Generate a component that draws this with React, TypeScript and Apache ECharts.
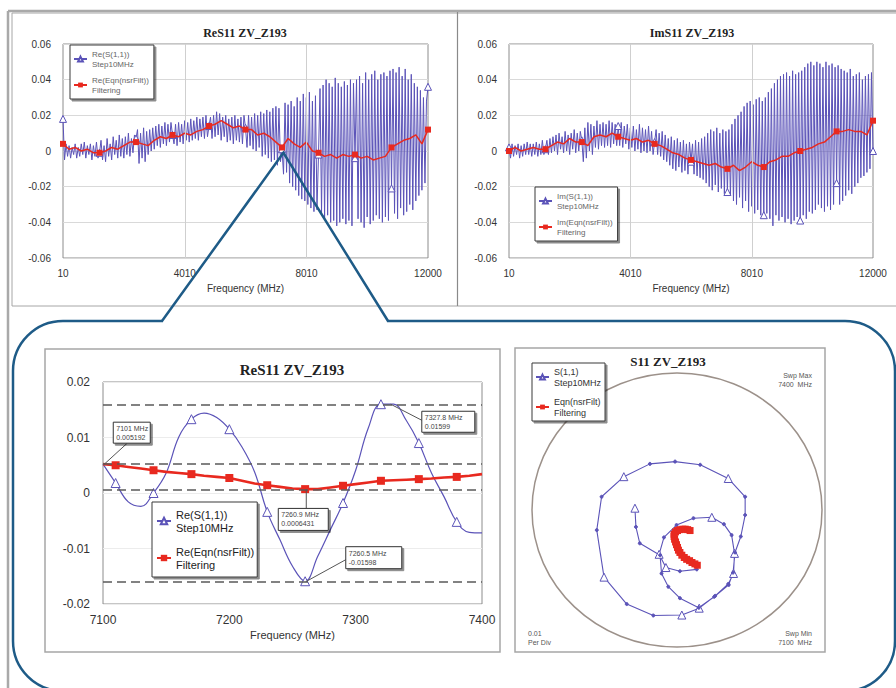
import React, { useEffect, useRef } from "react";
import * as echarts from "echarts";

// ---------- DATA ----------
const topStartMHz = 10;
const topStopMHz = 12000;
const topTicks = [10, 4010, 8010, 12000];
const topMarkerEvery = 24;

// Re(S(1,1)) Step10MHz, wide sweep (read as alternating extremes, one marker value per block)
const reS11Step = [
  0.018,
  -0.005, 0.004, -0.003, 0.003, -0.004, 0.002, -0.002, 0.004, -0.004, 0.002, -0.003, 0.004, -0.002, 0.005, -0.004, 0.003, -0.002, 0.004, -0.005, 0.003, -0.003, 0.005, -0.004,
  -0.001,
  0.006, -0.005, 0.003, -0.006, 0.007, -0.003, 0.004, -0.005, 0.008, -0.002, 0.006, -0.004, 0.009, -0.003, 0.007, -0.004, 0.008, -0.002, 0.01, -0.003, 0.007, -0.001, 0.009,
  0.007,
  0.012, -0.007, 0.01, -0.004, 0.013, -0.006, 0.011, -0.002, 0.012, 0.0, 0.013, 0.001, 0.014, 0.003, 0.015, 0.002, 0.014, 0.004, 0.016, 0.003, 0.015, 0.005, 0.016,
  0.009,
  0.004, 0.015, 0.003, 0.016, 0.005, 0.015, 0.004, 0.017, 0.006, 0.016, 0.005, 0.018, 0.006, 0.017, 0.007, 0.019, 0.006, 0.018, 0.008, 0.019, 0.007, 0.02, 0.008,
  0.014,
  0.019, 0.007, 0.02, 0.008, 0.022, 0.009, 0.021, 0.006, 0.019, 0.008, 0.02, 0.005, 0.018, 0.006, 0.019, 0.004, 0.02, 0.006, 0.018, 0.005, 0.019, 0.004, 0.02,
  0.013,
  0.002, 0.02, 0.003, 0.019, 0.001, 0.021, 0.0, 0.02, 0.002, 0.022, -0.003, 0.021, -0.002, 0.023, -0.004, 0.022, -0.006, 0.024, -0.005, 0.025, -0.008, 0.024, -0.006,
  0.001,
  -0.013, 0.027, -0.012, 0.026, -0.018, 0.028, -0.02, 0.025, -0.022, 0.03, -0.025, 0.028, -0.027, 0.032, -0.028, 0.03, -0.03, 0.033, -0.032, 0.028, -0.034, 0.031, -0.033,
  -0.002,
  0.035, -0.035, 0.037, -0.038, 0.04, -0.036, 0.038, -0.04, 0.036, -0.039, 0.041, -0.042, 0.038, -0.04, 0.036, -0.038, 0.039, -0.041, 0.037, -0.039, 0.04, -0.042, 0.038,
  -0.004,
  0.04, -0.038, 0.042, -0.04, 0.038, -0.043, 0.044, -0.037, 0.04, -0.041, 0.043, -0.039, 0.045, -0.036, 0.04, -0.038, 0.043, -0.04, 0.044, -0.037, 0.042, -0.039, 0.045,
  -0.021,
  0.046, -0.035, 0.044, -0.038, 0.047, -0.032, 0.042, -0.036, 0.046, -0.034, 0.04, -0.03, 0.043, -0.033, 0.038, -0.028, 0.036, -0.025, 0.034, -0.022, 0.03, -0.018, 0.028,
  0.036,
];

// Im(S(1,1)) Step10MHz, wide sweep
const imS11Step = [
  0.002,
  -0.004, 0.004, -0.003, 0.003, -0.002, 0.004, -0.004, 0.003, -0.003, 0.004, -0.002, 0.005, -0.002, 0.004, -0.003, 0.004, -0.002, 0.005, -0.003, 0.004, -0.002, 0.006, -0.002,
  0.001,
  0.006, -0.002, 0.007, -0.001, 0.008, 0.0, 0.009, -0.002, 0.01, 0.001, 0.008, -0.001, 0.011, 0.0, 0.009, -0.002, 0.01, 0.001, 0.012, -0.001, 0.01, 0.0, 0.011,
  0.006,
  -0.006, 0.013, -0.004, 0.016, 0.0, 0.015, -0.002, 0.014, 0.002, 0.017, 0.001, 0.015, 0.003, 0.016, 0.002, 0.015, 0.003, 0.017, 0.002, 0.016, 0.004, 0.015, 0.003,
  0.014,
  0.003, 0.016, 0.002, 0.014, 0.004, 0.015, 0.001, 0.013, 0.002, 0.014, 0.0, 0.012, 0.001, 0.015, -0.001, 0.013, 0.0, 0.012, -0.001, 0.014, 0.0, 0.011, -0.002,
  0.005,
  0.012, -0.002, 0.01, -0.003, 0.011, -0.005, 0.009, -0.006, 0.007, -0.008, 0.008, -0.01, 0.006, -0.011, 0.007, -0.009, 0.005, -0.012, 0.006, -0.011, 0.004, -0.013, 0.005,
  -0.006,
  0.004, -0.013, 0.006, -0.014, 0.005, -0.015, 0.007, -0.016, 0.008, -0.018, 0.01, -0.02, 0.012, -0.022, 0.011, -0.019, 0.013, -0.023, 0.01, -0.021, 0.012, -0.024, 0.011,
  -0.023,
  0.012, -0.025, 0.015, -0.028, 0.018, -0.03, 0.02, -0.026, 0.022, -0.032, 0.025, -0.028, 0.027, -0.034, 0.028, -0.031, 0.026, -0.035, 0.029, -0.033, 0.03, -0.036, 0.028,
  -0.036,
  0.03, -0.035, 0.033, -0.038, 0.035, -0.042, 0.038, -0.036, 0.04, -0.039, 0.042, -0.037, 0.043, -0.04, 0.044, -0.038, 0.042, -0.041, 0.045, -0.039, 0.043, -0.037, 0.044,
  -0.039,
  0.045, -0.036, 0.047, -0.038, 0.049, -0.034, 0.05, -0.035, 0.048, -0.033, 0.05, -0.03, 0.049, -0.032, 0.047, -0.034, 0.05, -0.031, 0.048, -0.033, 0.049, -0.03, 0.047,
  -0.018,
  0.048, -0.03, 0.046, -0.028, 0.045, -0.025, 0.044, -0.022, 0.046, -0.024, 0.042, -0.02, 0.043, -0.018, 0.044, -0.015, 0.04, -0.014, 0.042, -0.012, 0.043, -0.01, 0.044,
  0.0,
];

// Re / Im (Eqn(nsrFilt)) Filtering, wide sweep
const filtMarkerEvery = 6;
const reS11Filt = [
  0.004, 0.001, 0.002, 0.0, 0.001, -0.001, -0.001, 0.0, 0.002, 0.001, 0.003, 0.005, 0.005, 0.004, 0.003, 0.006,
  0.008, 0.007, 0.009, 0.008, 0.01, 0.009, 0.011, 0.012, 0.014, 0.015, 0.017, 0.015, 0.013, 0.014, 0.012, 0.012,
  0.009, 0.01, 0.008, 0.005, 0.002, 0.007, 0.004, 0.002, 0.005, 0.0, -0.001, -0.003, -0.002, -0.004, -0.002,
  -0.003, -0.002, -0.004, -0.003, -0.005, -0.004, -0.003, 0.002, 0.004, 0.006, 0.007, 0.009, 0.004, 0.012,
];
const imS11Filt = [
  0.0, 0.002, 0.0, 0.001, 0.002, 0.001, 0.001, 0.003, 0.005, 0.004, 0.007, 0.005, 0.005, 0.003, 0.008, 0.009,
  0.008, 0.01, 0.008, 0.007, 0.006, 0.007, 0.005, 0.006, 0.004, 0.003, 0.001, -0.001, -0.002, -0.004, -0.005,
  -0.006, -0.007, -0.008, -0.007, -0.009, -0.01, -0.008, -0.011, -0.009, -0.006, -0.008, -0.009, -0.006, -0.005,
  -0.003, -0.003, -0.001, 0.0, 0.001, 0.002, 0.004, 0.005, 0.008, 0.011, 0.011, 0.012, 0.011, 0.011, 0.009, 0.017,
];

// zoomed sweep 7100..7400 MHz, step 10 MHz
const zoomStartMHz = 7100;
const zoomStepMHz = 10;
const zoomReStep = [
  0.0052, 0.0018, -0.0016, -0.0024, 0.0, 0.0036, 0.0101, 0.0133, 0.0144, 0.0136, 0.0115, 0.0083, 0.0038, -0.0034,
  -0.0084, -0.0132, -0.0159, -0.0114, -0.0066, -0.0018, 0.0041, 0.0117, 0.016, 0.016, 0.0131, 0.009, 0.0036,
  -0.0007, -0.0052, -0.0071, -0.0072,
];
const zoomReFilt = [
  0.0052, 0.005, 0.0047, 0.0044, 0.0041, 0.0038, 0.0036, 0.0034, 0.0031, 0.0029, 0.0027, 0.0022, 0.0017, 0.0014,
  0.0011, 0.0008, 0.0007, 0.0007, 0.001, 0.0013, 0.0016, 0.0019, 0.0022, 0.0023, 0.0024, 0.0025, 0.0026, 0.0028,
  0.0029, 0.0031, 0.0034,
];
const zoomLevels = [0.01599, 0.005192, 0.0006431, -0.01598];
const zoomNoteFreq = [7101, 7327.8, 7260.9, 7260.5];
const zoomNoteVal = [0.005192, 0.01599, 0.0006431, -0.01598];
const zoomNoteText = ["7101 MHz\n0.005192", "7327.8 MHz\n0.01599", "7260.9 MHz\n0.0006431", "7260.5 MHz\n-0.01598"];

// polar trace (Re, Im) of S(1,1) and filtered
const polarRe = [
  0.0041, 0.0006, -0.0023, -0.0037, -0.0027, -0.0001, 0.0034, 0.0072, 0.0097, 0.0113, 0.0119, 0.0117, 0.0106,
  0.0079, 0.0046, 0.001, -0.0049, -0.0104, -0.0151, -0.0166, -0.0156, -0.011, -0.0056, -0.0004, 0.0048, 0.0106,
  0.0141, 0.0141, 0.0132, 0.012, 0.0116, 0.0107, 0.0077, 0.0045, 0.0006, -0.0018, -0.0032, -0.0035, -0.0077,
  -0.0085, -0.0087,
];
const polarIm = [
  -0.013, -0.0134, -0.0126, -0.0097, -0.006, -0.0033, -0.0018, -0.0016, -0.0031, -0.0055, -0.0095, -0.0139,
  -0.0162, -0.0188, -0.0215, -0.023, -0.0231, -0.0206, -0.0147, -0.0044, 0.0029, 0.0073, 0.0101, 0.0106, 0.0099,
  0.0069, 0.0029, -0.0011, -0.0058, -0.0093, -0.0137, -0.0164, -0.019, -0.0214, -0.0193, -0.0168, -0.0139,
  -0.0099, -0.0073, -0.0037, 0.0004,
];
const polarMarkerIdx = [2, 3, 7, 10, 11, 14, 15, 18, 21, 25, 40];
const polarFiltRe = [
  0.0042, 0.0037, 0.0031, 0.0026, 0.002, 0.0015, 0.001, 0.0006, 0.0003, 0.0001, -0.0001, -0.0003, -0.0005,
  -0.0006, -0.0006, -0.0003, 0.0001, 0.0006, 0.0012, 0.0017, 0.0022, 0.0027,
];
const polarFiltIm = [
  -0.0121, -0.0118, -0.0115, -0.0111, -0.0108, -0.0104, -0.0099, -0.0093, -0.0088, -0.0082, -0.0076, -0.007,
  -0.0064, -0.0058, -0.0053, -0.0048, -0.0045, -0.0043, -0.0042, -0.0042, -0.0043, -0.0045,
];

// ---------- STYLE ----------
const BLUE = "#5b53b8";
const RED = "#e8291f";
const SANS = '"Liberation Sans", Arial, sans-serif';
const SERIF = '"Liberation Serif", "Times New Roman", serif';

const N_RE_STEP = "Re(S(1,1))\nStep10MHz";
const N_RE_FILT = "Re(Eqn(nsrFilt))\nFiltering";
const N_IM_STEP = "Im(S(1,1))\nStep10MHz";
const N_IM_FILT = "Im(Eqn(nsrFilt))\nFiltering";
const N_P_STEP = "S(1,1)\nStep10MHz";
const N_P_FILT = "Eqn(nsrFilt)\nFiltering";

const sweepX = (n: number, i: number) => topStartMHz + (i * (topStopMHz - topStartMHz)) / (n - 1);
const plain = (v: number) => String(v);

function topBlue(name: string, vals: number[], idx: number) {
  return {
    type: "line", name, xAxisIndex: idx, yAxisIndex: idx, showAllSymbol: true, symbol: "triangle", symbolSize: 7,
    lineStyle: { color: BLUE, width: 1 }, itemStyle: { color: "#fff", borderColor: BLUE, borderWidth: 1 },
    z: 2, silent: true,
    data: vals.map((v, i) =>
      i % topMarkerEvery === 0 ? { value: [sweepX(vals.length, i), v] } : { value: [sweepX(vals.length, i), v], symbol: "none" }
    ),
  };
}
function topRed(name: string, vals: number[], idx: number) {
  return {
    type: "line", name, xAxisIndex: idx, yAxisIndex: idx, showAllSymbol: true, symbol: "rect", symbolSize: 6,
    lineStyle: { color: RED, width: 1.5 }, itemStyle: { color: RED }, z: 3, silent: true,
    data: vals.map((v, i) =>
      i % filtMarkerEvery === 0 ? { value: [sweepX(vals.length, i), v] } : { value: [sweepX(vals.length, i), v], symbol: "none" }
    ),
  };
}
function vGrid(idx: number) {
  return {
    type: "line", xAxisIndex: idx, yAxisIndex: idx, data: [], z: 1, silent: true,
    markLine: {
      silent: true, symbol: ["none", "none"], label: { show: false }, precision: 10,
      lineStyle: { color: "#cfcfcf", type: "solid", width: 1 },
      data: topTicks.slice(1, -1).map((v) => ({ xAxis: v })),
    },
  };
}

function legendBox(left: number, top: number, data: string[], fs: number, lh: number, gap: number, iw: number, ih: number, color: string, pad: number[]) {
  return {
    orient: "vertical", left, top, data, selectedMode: false, itemGap: gap, itemWidth: iw, itemHeight: ih,
    padding: pad, backgroundColor: "#fff", borderColor: "#3a3a3a", borderWidth: 1,
    shadowColor: "rgba(0,0,0,0.45)", shadowBlur: 1, shadowOffsetX: 2, shadowOffsetY: 2,
    textStyle: { fontSize: fs, lineHeight: lh, color, fontFamily: SANS },
  };
}

function buildOption() {
  const zf = zoomReStep.map((_, i) => zoomStartMHz + i * zoomStepMHz);
  const topX = (g: number) => ({
    gridIndex: g, type: "value", min: topStartMHz, max: topStopMHz,
    axisLine: { show: false }, axisTick: { show: false }, splitLine: { show: false },
    axisLabel: { customValues: topTicks, formatter: plain, fontSize: 10, color: "#333", margin: 10, fontFamily: SANS },
    name: "Frequency (MHz)", nameLocation: "middle", nameGap: 25,
    nameTextStyle: { fontSize: 10, color: "#333", fontFamily: SANS },
  });
  const topY = (g: number) => ({
    gridIndex: g, type: "value", min: -0.06, max: 0.06, interval: 0.02,
    axisLine: { show: false }, axisTick: { show: false },
    splitLine: { lineStyle: { color: "#d9d9d9" } },
    axisLabel: { fontSize: 10, color: "#333", margin: 12, fontFamily: SANS },
  });
  return {
    animation: false,
    backgroundColor: "#fff",
    title: [
      { text: "ReS11 ZV_Z193", left: 245, top: 27, textAlign: "center", padding: 0, textStyle: { fontFamily: SERIF, fontWeight: "bold", fontSize: 12, color: "#222" } },
      { text: "ImS11 ZV_Z193", left: 692, top: 27, textAlign: "center", padding: 0, textStyle: { fontFamily: SERIF, fontWeight: "bold", fontSize: 12, color: "#222" } },
      { text: "ReS11 ZV_Z193", left: 292, top: 362, textAlign: "center", padding: 0, textStyle: { fontFamily: SERIF, fontWeight: "bold", fontSize: 15, color: "#222" } },
      { text: "S11 ZV_Z193", left: 668, top: 355, textAlign: "center", padding: 0, textStyle: { fontFamily: SERIF, fontWeight: "bold", fontSize: 13, color: "#222" } },
    ],
    legend: [
      legendBox(70, 45, [N_RE_STEP, N_RE_FILT], 8, 10, 6, 13, 6, "#666", [4, 5, 4, 3]),
      legendBox(535, 187, [N_IM_STEP, N_IM_FILT], 8, 10, 6, 13, 6, "#666", [4, 5, 4, 3]),
      legendBox(152, 502, [N_RE_STEP, N_RE_FILT], 11, 13, 11, 14, 8, "#222", [6, 3, 6, 4]),
      legendBox(532, 363, [N_P_STEP, N_P_FILT], 9, 11, 8, 13, 6, "#333", [3, 4, 3, 3]),
    ],
    grid: [
      { left: 63, top: 44, width: 365, height: 214, show: true, borderColor: "#8c8c8c", borderWidth: 1, backgroundColor: "#fff" },
      { left: 509, top: 44, width: 364, height: 214, show: true, borderColor: "#8c8c8c", borderWidth: 1, backgroundColor: "#fff" },
      { left: 103, top: 382, width: 379, height: 222, show: true, borderColor: "#8c8c8c", borderWidth: 1, backgroundColor: "#fff" },
      { left: 532, top: 373, width: 290, height: 274, show: false },
    ],
    xAxis: [
      topX(0),
      topX(1),
      {
        gridIndex: 2, type: "value", min: 7100, max: 7400, interval: 100,
        axisLine: { show: false }, axisTick: { show: false }, splitLine: { show: false },
        axisLabel: { formatter: plain, fontSize: 12, color: "#333", margin: 10, fontFamily: SANS },
        name: "Frequency (MHz)", nameLocation: "middle", nameGap: 25,
        nameTextStyle: { fontSize: 11, color: "#333", fontFamily: SANS },
      },
      { gridIndex: 3, type: "value", min: -0.03, max: 0.03, show: false },
    ],
    yAxis: [
      topY(0),
      topY(1),
      {
        gridIndex: 2, type: "value", min: -0.02, max: 0.02, interval: 0.01,
        axisLine: { show: false }, axisTick: { show: false },
        splitLine: { lineStyle: { color: "#ececec" } },
        axisLabel: { fontSize: 12, color: "#333", margin: 13, fontFamily: SANS },
      },
      { gridIndex: 3, type: "value", min: -0.03, max: 0.03, show: false },
    ],
    series: [
      vGrid(0),
      vGrid(1),
      topBlue(N_RE_STEP, reS11Step, 0),
      topRed(N_RE_FILT, reS11Filt, 0),
      topBlue(N_IM_STEP, imS11Step, 1),
      topRed(N_IM_FILT, imS11Filt, 1),
      {
        type: "line", name: N_RE_STEP, xAxisIndex: 2, yAxisIndex: 2, smooth: 0.4, showAllSymbol: true,
        symbol: "triangle", symbolSize: 9, silent: true, z: 3,
        lineStyle: { color: BLUE, width: 1.2 }, itemStyle: { color: "#fff", borderColor: BLUE, borderWidth: 1 },
        data: zoomReStep.map((v, i) => (i % 3 === 1 ? { value: [zf[i], v] } : { value: [zf[i], v], symbol: "none" })),
        markLine: {
          silent: true, symbol: ["none", "none"], label: { show: false }, precision: 10,
          lineStyle: { color: "#5a5a5a", type: [9, 5], width: 1.6 },
          data: zoomLevels.map((v) => ({ yAxis: v })),
        },
      },
      {
        type: "line", name: N_RE_FILT, xAxisIndex: 2, yAxisIndex: 2, showAllSymbol: true,
        symbol: "rect", symbolSize: 8, silent: true, z: 4,
        lineStyle: { color: RED, width: 2.6 }, itemStyle: { color: RED },
        data: zoomReFilt.map((v, i) => (i % 3 === 1 ? { value: [zf[i], v] } : { value: [zf[i], v], symbol: "none" })),
      },
      {
        type: "line", name: N_P_STEP, xAxisIndex: 3, yAxisIndex: 3, showAllSymbol: true,
        symbol: "triangle", symbolSize: 8, silent: true, z: 3,
        lineStyle: { color: BLUE, width: 1.1 }, itemStyle: { color: "#fff", borderColor: BLUE, borderWidth: 1 },
        data: polarRe.map((re, i) =>
          polarMarkerIdx.indexOf(i) >= 0
            ? { value: [re, polarIm[i]] }
            : { value: [re, polarIm[i]], symbol: "circle", symbolSize: 3, itemStyle: { color: BLUE, borderColor: BLUE } }
        ),
      },
      {
        type: "line", name: N_P_FILT, xAxisIndex: 3, yAxisIndex: 3, showAllSymbol: true,
        symbol: "rect", symbolSize: 7, silent: true, z: 4,
        lineStyle: { color: RED, width: 1.5 }, itemStyle: { color: RED },
        data: polarFiltRe.map((re, i) => [re, polarFiltIm[i]]),
      },
    ],
  };
}

function buildGraphics(chart: any) {
  const els: any[] = [];
  const frame = { fill: "none", stroke: "#a6a6a6" };
  // page / panel frames
  els.push({ type: "line", z: 40, shape: { x1: 8, y1: 11, x2: 8, y2: 688 }, style: { stroke: "#a9a9a9", lineWidth: 2.5 } });
  els.push({ type: "line", z: 40, shape: { x1: 8, y1: 11, x2: 896, y2: 11 }, style: { stroke: "#a9a9a9", lineWidth: 2.5 } });
  els.push({ type: "rect", z: 40, shape: { x: 12, y: 13, width: 890, height: 293 }, style: { ...frame, lineWidth: 1 } });
  els.push({ type: "line", z: 40, shape: { x1: 457.5, y1: 12, x2: 457.5, y2: 306 }, style: { stroke: "#8a8a8a", lineWidth: 1.2 } });
  els.push({ type: "rect", z: 40, shape: { x: 45, y: 349, width: 455, height: 303 }, style: { ...frame, lineWidth: 1.5 } });
  els.push({ type: "rect", z: 40, shape: { x: 515, y: 348, width: 310, height: 304 }, style: { ...frame, lineWidth: 1.5 } });

  // polar boundary circle (from grid 3 scale)
  const c = chart.convertToPixel({ gridIndex: 3 }, [0, 0]);
  const e = chart.convertToPixel({ gridIndex: 3 }, [0.03, 0.03]);
  els.push({ type: "ellipse", z: 1, shape: { cx: c[0], cy: c[1], rx: e[0] - c[0], ry: c[1] - e[1] }, style: { fill: "none", stroke: "#9c918a", lineWidth: 1.5 } });

  const smallText = (x: number, y: number, text: string, align: string) => ({
    type: "text", z: 50, x, y,
    style: { text, font: `7px ${SANS}`, fill: "#555", align, textAlign: align, verticalAlign: "top", textVerticalAlign: "top", lineHeight: 9 },
  });
  els.push(smallText(812, 371, "Swp Max\n7400  MHz", "right"));
  els.push(smallText(812, 629, "Swp Min\n7100  MHz", "right"));
  els.push(smallText(528, 629, "0.01\nPer Div", "left"));

  // callout: rounded box + zoom connector
  els.push({ type: "rect", z: 90, shape: { x: 13, y: 321, width: 882, height: 370, r: 50 }, style: { fill: "none", stroke: "#1e5b87", lineWidth: 2.5 } });
  els.push({ type: "rect", z: 91, shape: { x: 163, y: 317, width: 224, height: 8 }, style: { fill: "#fff", stroke: "none" } });
  const apex = chart.convertToPixel({ gridIndex: 0 }, [7250, -0.001]);
  els.push({ type: "polyline", z: 92, shape: { points: [[162, 321], apex, [388, 321]] }, style: { fill: "none", stroke: "#1e5b87", lineWidth: 2.5 } });

  // annotation boxes on the zoomed chart
  const boxes = [
    { dx: 9, dy: -42, w: 37, h: 21, ax: 23, ay: -21 },
    { dx: 31, dy: 7, w: 53, h: 21, ax: 31, ay: 16 },
    { dx: -28, dy: 19, w: 50, h: 22, ax: 0, ay: 19 },
    { dx: 40, dy: -35, w: 56, h: 22, ax: 40, ay: -22 },
  ];
  zoomNoteFreq.forEach((f, i) => {
    const p = chart.convertToPixel({ gridIndex: 2 }, [f, zoomNoteVal[i]]);
    const b = boxes[i];
    els.push({ type: "line", z: 60, shape: { x1: p[0], y1: p[1], x2: p[0] + b.ax, y2: p[1] + b.ay }, style: { stroke: "#555", lineWidth: 1 } });
    els.push({
      type: "rect", z: 61, shape: { x: p[0] + b.dx, y: p[1] + b.dy, width: b.w, height: b.h },
      style: { fill: "#fff", stroke: "#333", lineWidth: 1, shadowColor: "rgba(0,0,0,0.45)", shadowBlur: 1, shadowOffsetX: 2, shadowOffsetY: 2 },
    });
    els.push({
      type: "text", z: 62, x: p[0] + b.dx + 3, y: p[1] + b.dy + 2,
      style: { text: zoomNoteText[i], font: `7px ${SANS}`, fill: "#444", lineHeight: 9, verticalAlign: "top", textVerticalAlign: "top" },
    });
  });
  return els;
}

export default function App() {
  const ref = useRef<HTMLDivElement>(null);
  useEffect(() => {
    const chart = echarts.init(ref.current as HTMLDivElement, null, { renderer: "svg" });
    chart.setOption(buildOption() as any);
    chart.setOption({ graphic: { elements: buildGraphics(chart) } } as any);
    return () => chart.dispose();
  }, []);
  return <div ref={ref} style={{ position: "fixed", left: 0, top: 0, width: 896, height: 688, background: "#fff" }} />;
}
